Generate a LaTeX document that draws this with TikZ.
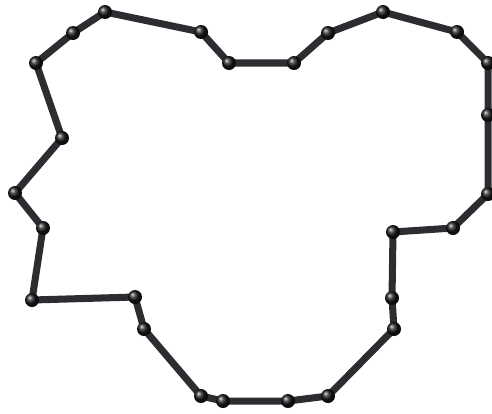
\documentclass[tikz,border=0pt]{standalone}
\usepackage{tikz}
\usetikzlibrary{backgrounds}
\definecolor{atomgray}{HTML}{2B2D31}

\begin{document}
\begin{tikzpicture}[
    x=0.02cm, y=-0.02cm,
    atom/.style={circle, inner sep=0pt, minimum size=0.28cm, shading=ball, ball color=atomgray!55!black},
    bond/.style={line width=4pt, draw=atomgray}
]
\useasboundingbox (0,0) rectangle (492,413);
\node[atom] (a1) at (105,12) {};
\node[atom] (a2) at (201,32) {};
\node[atom] (a3) at (229,63) {};
\node[atom] (a4) at (294,63) {};
\node[atom] (a5) at (328,33) {};
\node[atom] (a6) at (383,12) {};
\node[atom] (a7) at (457,32) {};
\node[atom] (a8) at (488,63) {};
\node[atom] (a9) at (488,115) {};
\node[atom] (a10) at (488,194) {};
\node[atom] (a11) at (453,228) {};
\node[atom] (a12) at (393,232) {};
\node[atom] (a13) at (392,298) {};
\node[atom] (a14) at (394,329) {};
\node[atom] (a15) at (328,396) {};
\node[atom] (a16) at (288,401) {};
\node[atom] (a17) at (223,401) {};
\node[atom] (a18) at (201,396) {};
\node[atom] (a19) at (144,329) {};
\node[atom] (a20) at (135,297) {};
\node[atom] (a21) at (32,300) {};
\node[atom] (a22) at (43,228) {};
\node[atom] (a23) at (15,193) {};
\node[atom] (a24) at (62,138) {};
\node[atom] (a25) at (36,63) {};
\node[atom] (a26) at (73,33) {};

\begin{scope}[on background layer]
\draw[bond] (a1.center) -- (a2.center) -- (a3.center) -- (a4.center) -- (a5.center)
  -- (a6.center) -- (a7.center) -- (a8.center) -- (a9.center) -- (a10.center)
  -- (a11.center) -- (a12.center) -- (a13.center) -- (a14.center) -- (a15.center)
  -- (a16.center) -- (a17.center) -- (a18.center) -- (a19.center) -- (a20.center)
  -- (a21.center) -- (a22.center) -- (a23.center) -- (a24.center) -- (a25.center)
  -- (a26.center) -- cycle;
\end{scope}
\end{tikzpicture}
\end{document}
